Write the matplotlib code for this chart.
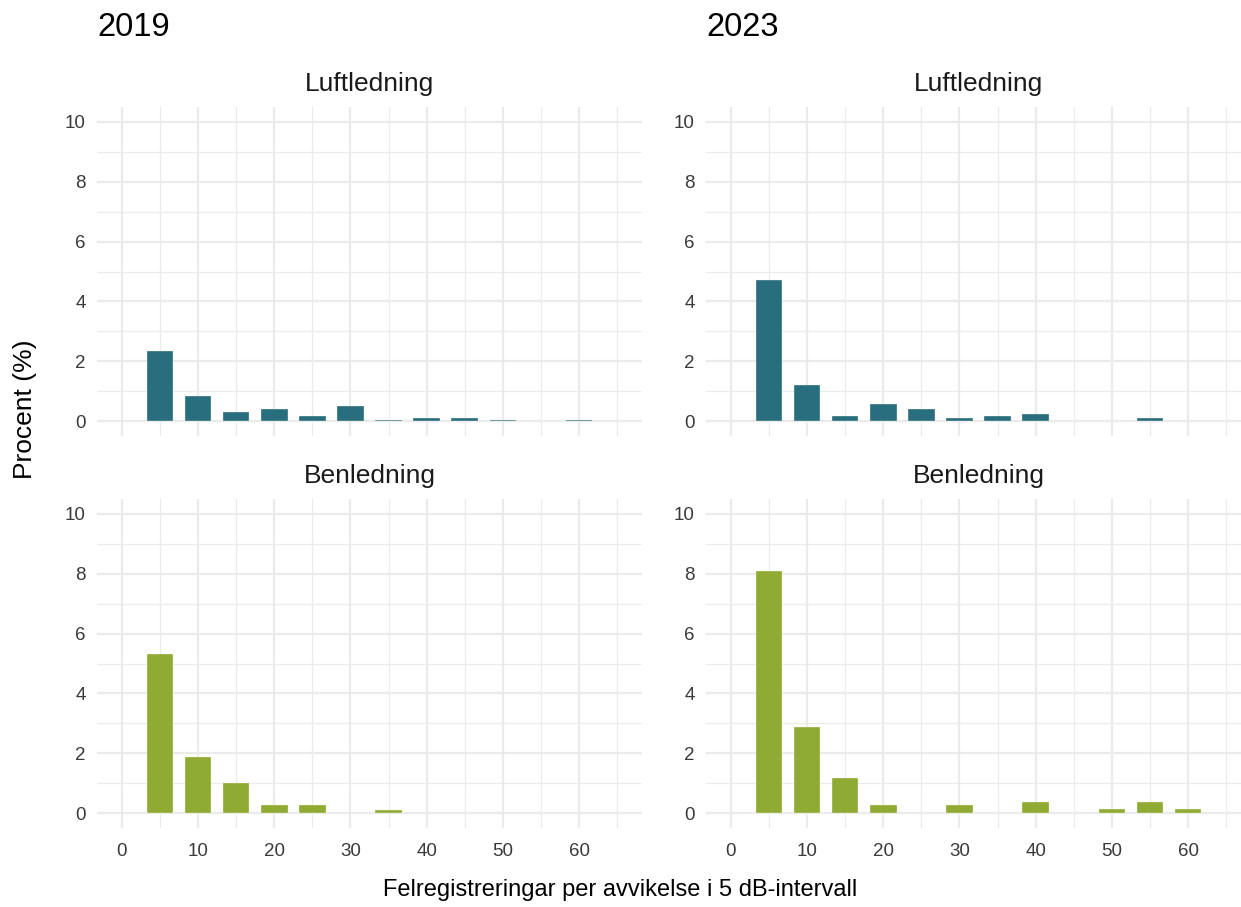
import numpy as np
import matplotlib
matplotlib.use("Agg")
import matplotlib.pyplot as plt
from matplotlib.ticker import MultipleLocator

plt.rcParams['font.family'] = ['Liberation Sans', 'DejaVu Sans']

# deviation bins (dB) and share of misregistrations (%)
bins = [5, 10, 15, 20, 25, 30, 35, 40, 45, 50, 55, 60]
luft_2019 = [2.33, 0.83, 0.31, 0.39, 0.18, 0.49, 0.05, 0.10, 0.10, 0.05, 0.0, 0.05]
ben_2019 = [5.33, 1.89, 1.01, 0.27, 0.27, 0.0, 0.11, 0.0, 0.0, 0.0, 0.0, 0.0]
luft_2023 = [4.72, 1.20, 0.17, 0.56, 0.40, 0.09, 0.17, 0.24, 0.0, 0.0, 0.09, 0.0]
ben_2023 = [8.08, 2.87, 1.17, 0.26, 0.0, 0.26, 0.0, 0.38, 0.0, 0.12, 0.37, 0.12]

years = ["2019", "2023"]
facets = ["Luftledning", "Benledning"]
colors = {"Luftledning": "#296E7E", "Benledning": "#90AB33"}
data = {
    ("2019", "Luftledning"): luft_2019,
    ("2019", "Benledning"): ben_2019,
    ("2023", "Luftledning"): luft_2023,
    ("2023", "Benledning"): ben_2023,
}

W, H = 1241, 907
fig = plt.figure(figsize=(W / 100, H / 100), dpi=100)

col_x = [(97, 642), (706, 1251)]
row_y = [(107, 436), (499, 828)]

grid_col = "#EBEBEB"
tick_col = "#3A3A3A"


def px_axes(x0, x1, y0, y1):
    return fig.add_axes([x0 / W, 1 - y1 / H, (x1 - x0) / W, (y1 - y0) / H])


for ci, year in enumerate(years):
    for ri, facet in enumerate(facets):
        x0, x1 = col_x[ci]
        y0, y1 = row_y[ri]
        ax = px_axes(x0, x1, y0, y1)
        vals = np.array(data[(year, facet)])
        xs = np.array(bins)
        keep = vals > 0
        ax.bar(xs[keep], vals[keep], width=3.5, color=colors[facet],
               edgecolor="#F4F7EC", linewidth=0.25, zorder=3)

        ax.set_xlim(-3.25, 68.25)
        ax.set_ylim(-0.5, 10.5)
        ax.xaxis.set_major_locator(MultipleLocator(10))
        ax.xaxis.set_minor_locator(MultipleLocator(5))
        ax.yaxis.set_major_locator(MultipleLocator(2))
        ax.yaxis.set_minor_locator(MultipleLocator(1))
        ax.grid(which="major", color=grid_col, linewidth=1.6, zorder=0)
        ax.grid(which="minor", color=grid_col, linewidth=0.9, zorder=0)
        ax.set_axisbelow(True)
        for s in ax.spines.values():
            s.set_visible(False)
        ax.tick_params(which="both", length=0, colors=tick_col, labelsize=13.5)
        ax.tick_params(axis="x", pad=11)
        ax.tick_params(axis="y", pad=8)
        if ri == 0:
            ax.tick_params(labelbottom=False)
        # facet strip label
        ax.text(0.5, 1 + 23 / (y1 - y0), facet, transform=ax.transAxes,
                fontsize=19, color="#1A1A1A", ha="center", va="center")

    fig.text(col_x[ci][0] / W + 0.0005, 1 - 28 / H, year, fontsize=23.5,
             ha="left", va="center", color="black")

fig.text(25 / W, 1 - 409 / H, "Procent (%)", rotation=90, fontsize=19,
         ha="center", va="center", color="black")
fig.text(620 / W, 1 - 890 / H, "Felregistreringar per avvikelse i 5 dB-intervall",
         fontsize=17, ha="center", va="center", color="black")

fig.savefig("out.png", dpi=100)
